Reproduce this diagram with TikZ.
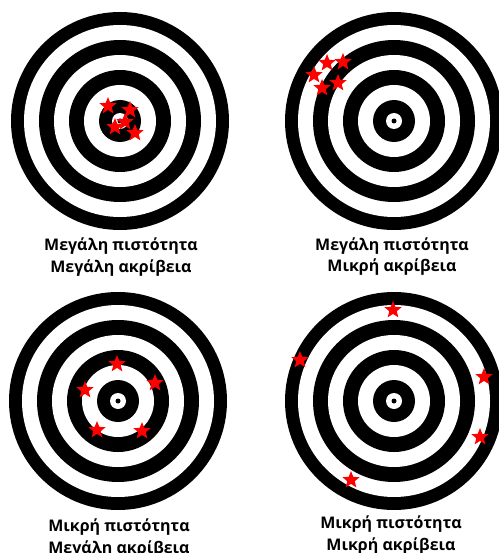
\documentclass[tikz,border=0pt]{standalone}
\usepackage{fontspec}
\setmainfont{Open Sans}
\usetikzlibrary{shapes.geometric}

\begin{document}
\begin{tikzpicture}[
    x=1pt, y=-1pt,
    hit/.style={
        star,
        star points=5,
        star point ratio=2.3,
        fill=red,
        inner sep=0pt,
        minimum size=18pt
    },
    caption/.style={
        anchor=base,
        inner sep=0pt,
        font=\fontsize{16}{20}\selectfont\bfseries
    }
]
\useasboundingbox (0,0) rectangle (498,553);

% targets
\foreach \cx/\cy in {120/121, 394/121, 118/401, 394/401}
    \foreach \r/\col in {109/black, 96/white, 81/black, 66/white, 51/black, 36/white, 21/black, 8/white, 2.5/black}
        \fill[\col] (\cx,\cy) circle[radius=\r];

% hits
\node[hit] (h11) at (108,106) {};
\node[hit] (h12) at (130,110) {};
\node[hit] (h13) at (115,127) {};
\node[hit] (h14) at (125,122) {};
\node[hit] (h15) at (135,133) {};

\node[hit] (h21) at (327,63) {};
\node[hit] (h22) at (343,62) {};
\node[hit] (h23) at (314,75) {};
\node[hit] (h24) at (322,88) {};
\node[hit] (h25) at (338,83) {};

\node[hit] (h31) at (117,364) {};
\node[hit] (h32) at (155,383) {};
\node[hit] (h33) at (85,390) {};
\node[hit] (h34) at (97,430) {};
\node[hit] (h35) at (142,431) {};

\node[hit] (h41) at (393,310) {};
\node[hit] (h42) at (300,360) {};
\node[hit] (h43) at (484,377) {};
\node[hit] (h44) at (480,437) {};
\node[hit] (h45) at (351,480) {};

% captions
\node[caption] (c1a) at (121,250) {Μεγάλη πιστότητα};
\node[caption] (c1b) at (121,272) {Μεγάλη ακρίβεια};
\node[caption] (c2a) at (392,250) {Μεγάλη πιστότητα};
\node[caption] (c2b) at (392,271) {Μικρή ακρίβεια};
\node[caption] (c3a) at (119,531) {Μικρή πιστότητα};
\node[caption] (c3b) at (119,553) {Μεγάλη ακρίβεια};
\node[caption] (c4a) at (391,528) {Μικρή πιστότητα};
\node[caption] (c4b) at (391,550) {Μικρή ακρίβεια};

\end{tikzpicture}
\end{document}
